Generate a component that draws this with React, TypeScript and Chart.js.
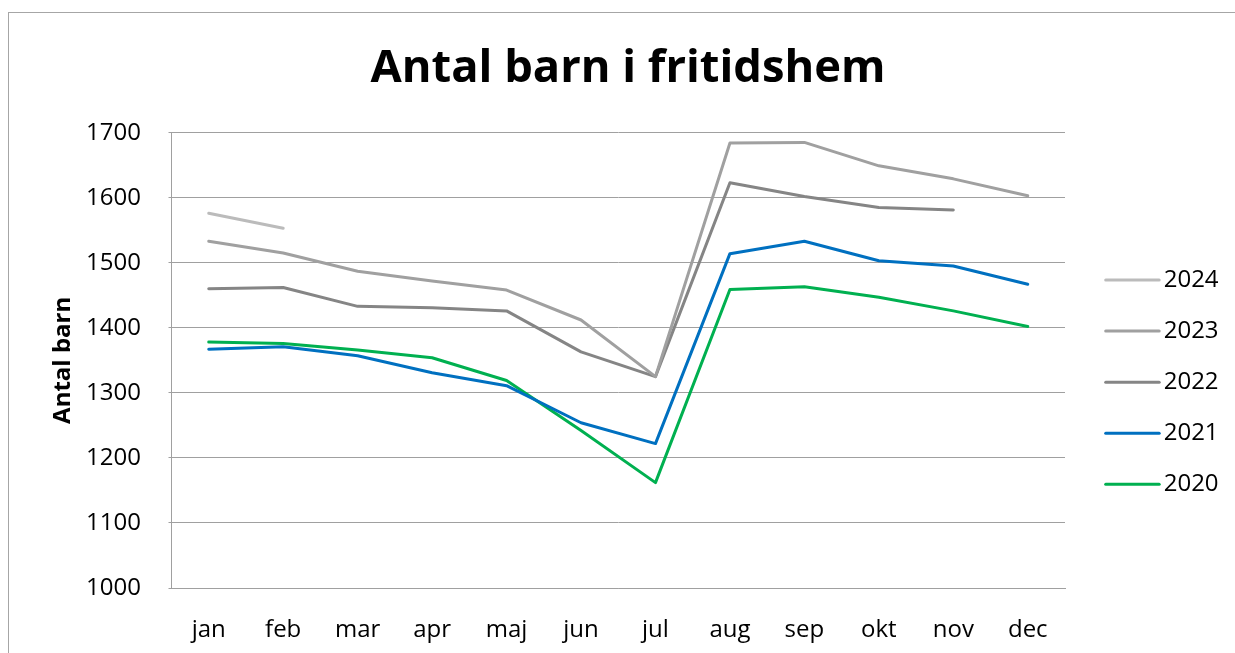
import React, { useEffect, useRef } from "react";
import { Chart, registerables } from "chart.js";

Chart.register(...registerables);

const TITLE = "Antal barn i fritidshem";
const Y_TITLE = "Antal barn";
const MONTHS = ["jan", "feb", "mar", "apr", "maj", "jun", "jul", "aug", "sep", "okt", "nov", "dec"];

const S2024 = [1576, 1553, null, null, null, null, null, null, null, null, null, null];
const S2023 = [1533, 1515, 1487, 1472, 1458, 1412, 1325, 1684, 1685, 1649, 1629, 1603];
const S2022 = [1460, 1462, 1433, 1431, 1426, 1363, 1325, 1623, 1602, 1585, 1581, null];
const S2021 = [1367, 1371, 1357, 1331, 1311, 1254, 1222, 1514, 1533, 1503, 1495, 1467];
const S2020 = [1378, 1376, 1366, 1354, 1319, 1242, 1162, 1459, 1463, 1447, 1426, 1402];

const SERIES_LABELS = ["2024", "2023", "2022", "2021", "2020"];
const SERIES_COLORS = ["#BBBBBB", "#A0A0A0", "#858585", "#0070C0", "#00B050"];
const SERIES_DATA = [S2024, S2023, S2022, S2021, S2020];

const Y_MIN = 1000;
const Y_MAX = 1700;
const Y_STEP = 100;

const FONT = '"Open Sans", "Noto Sans", sans-serif';
const GRID = "#A0A0A0";

const sideLegend = {
  id: "sideLegend",
  afterDraw(chart: any) {
    const ctx = chart.ctx;
    const area = chart.chartArea;
    ctx.save();
    chart.data.datasets.forEach((ds: any, i: number) => {
      const y = area.top + 147.3 + i * 51.1;
      const x0 = area.right + 40.7;
      const x1 = x0 + 53.5;
      ctx.strokeStyle = ds.borderColor;
      ctx.lineWidth = 3;
      ctx.lineCap = "round";
      ctx.beginPath();
      ctx.moveTo(x0, y);
      ctx.lineTo(x1, y);
      ctx.stroke();
      ctx.fillStyle = "#000";
      ctx.font = `24px ${FONT}`;
      ctx.textBaseline = "middle";
      ctx.textAlign = "left";
      ctx.fillText(ds.label, x1 + 4.5, y);
    });
    ctx.restore();
  },
};

export default function App() {
  const ref = useRef<HTMLCanvasElement | null>(null);

  useEffect(() => {
    if (!ref.current) return;
    const chart = new Chart(ref.current, {
      type: "line",
      data: {
        labels: MONTHS,
        datasets: SERIES_LABELS.map((label, i) => ({
          label,
          data: SERIES_DATA[i],
          borderColor: SERIES_COLORS[i],
          backgroundColor: SERIES_COLORS[i],
          borderWidth: 3,
          borderCapStyle: "round",
          borderJoinStyle: "round",
          pointRadius: 0,
          pointHoverRadius: 0,
          tension: 0,
          spanGaps: false,
          order: i + 1,
        })),
      },
      options: {
        responsive: false,
        maintainAspectRatio: false,
        animation: false,
        layout: { padding: { left: 12, right: 0, top: 0, bottom: 0 } },
        plugins: {
          legend: { display: false },
          tooltip: { enabled: false },
          title: {
            display: true,
            text: TITLE,
            color: "#000",
            font: { family: FONT, size: 45.3, weight: "bold", lineHeight: 1.2 },
            padding: { top: 28.6, bottom: 36.7 },
          },
        },
        scales: {
          x: {
            offset: true,
            grid: { display: false },
            border: { display: true, color: GRID, width: 1 },
            ticks: {
              color: "#000",
              font: { family: FONT, size: 24, lineHeight: 1.2 },
              padding: 19.5,
              maxRotation: 0,
              autoSkip: false,
            },
            afterFit: (s: any) => {
              s.height = 65;
            },
          },
          y: {
            min: Y_MIN,
            max: Y_MAX,
            grid: { color: GRID, lineWidth: 1, drawTicks: true, tickLength: 3 },
            border: { display: true, color: GRID, width: 1 },
            ticks: {
              stepSize: Y_STEP,
              color: "#000",
              font: { family: FONT, size: 24, lineHeight: 1.2 },
              padding: 27.5,
              callback: (v: any) => String(v),
            },
            title: {
              display: true,
              text: Y_TITLE,
              color: "#000",
              font: { family: FONT, size: 24, weight: "bold", lineHeight: 1.2 },
              padding: { top: 27.6, bottom: 0 },
            },
            afterFit: (s: any) => {
              s.width = 150.5;
            },
          },
          yR: {
            position: "right",
            display: true,
            grid: { display: false },
            border: { display: false },
            ticks: { display: false },
            afterFit: (s: any) => {
              s.width = 170;
            },
          },
        },
      },
      plugins: [sideLegend],
    } as any);
    return () => chart.destroy();
  }, []);

  return (
    <div
      style={{
        position: "fixed",
        left: 8,
        top: 12,
        width: 1227,
        height: 641,
        boxSizing: "border-box",
        borderLeft: "1px solid #A6A6A6",
        borderTop: "1px solid #A6A6A6",
        background: "#fff",
      }}
    >
      <canvas ref={ref} width={1226} height={640} style={{ display: "block" }} />
    </div>
  );
}
